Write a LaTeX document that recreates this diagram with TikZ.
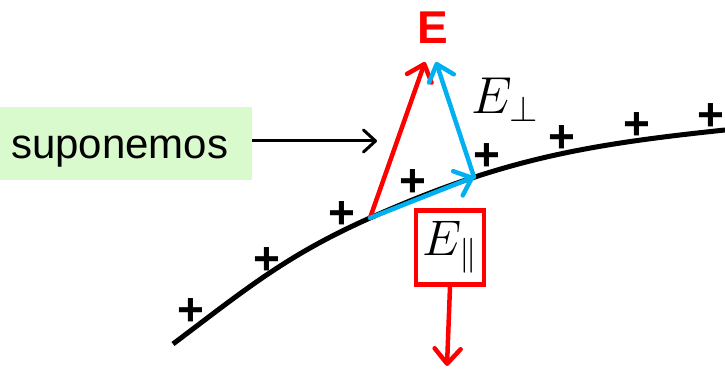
\RequirePackage{fix-cm}
\documentclass[tikz,border=0pt]{standalone}
\usepackage{fontspec}
\setmainfont{Liberation Sans}
\usetikzlibrary{arrows.meta}
\definecolor{campo}{RGB}{255,0,0}
\definecolor{celeste}{RGB}{0,176,240}
\definecolor{verdeclaro}{RGB}{217,250,205}
\begin{document}
\begin{tikzpicture}[x=1pt, y=1pt,
                vec/.style={line width=4.5pt, line cap=round, -{Straight Barb[length=15pt, width=26pt, round]}},
                carga/.style={inner sep=0pt, font=\fontsize{46}{46}\selectfont\bfseries},
                nota/.style={fill=verdeclaro, anchor=west, text width=230pt, minimum height=73pt, inner xsep=11pt, inner ysep=0pt,
                    text height=40pt, text depth=9pt, font=\fontsize{42}{48}\selectfont},
                caja/.style={draw=campo, line width=4.5pt, minimum width=68pt, minimum height=74pt, inner sep=0pt}
            ]
                \useasboundingbox (0,0) rectangle (725,374);
                % superficie cargada
                \coordinate (ini) at (173,30);
                \coordinate (P) at (370,156);
                \coordinate (Q) at (474,197);
                \coordinate (fin) at (725,244);
                \draw[line width=5pt] (ini) to[out=37, in=-156] (P) to[out=24, in=186] (fin);
                \foreach \x/\y [count=\i] in {191/62, 267/113, 342/159, 413/191, 487/217, 562/235, 637/248, 711/257}
                    \node[carga] (mas\i) at (\x,\y) {+};
                % campo y componentes
                \coordinate (Etip) at (425,312);
                \coordinate (Eperp) at (436,312);
                \node[text=campo, font=\fontsize{46}{46}\selectfont\bfseries] (Elbl) at (433,346) {E};
                \draw[vec, draw=campo] (P) -- (Etip);
                \draw[vec, draw=celeste] (P) -- (Q);
                \draw[vec, draw=celeste] (Q) -- (Eperp);
                \node[font=\fontsize{52}{52}\selectfont] (perp) at (505,274) {$E_\perp$};
                \node[caja] (par) at (450,126.5) {\fontsize{50}{50}\selectfont$E_\|$};
                \coordinate (abajo) at (447,8);
                \draw[vec, draw=campo] (par.south) -- (abajo);
                % nota
                \node[nota] (sup) at (0,230.5) {suponemos};
                \coordinate (flecha) at (377,233);
                \draw[line width=3pt, -{Straight Barb[length=12pt, width=22pt, round]}] (sup.east |- flecha) -- (flecha);
            \end{tikzpicture}
\end{document}
